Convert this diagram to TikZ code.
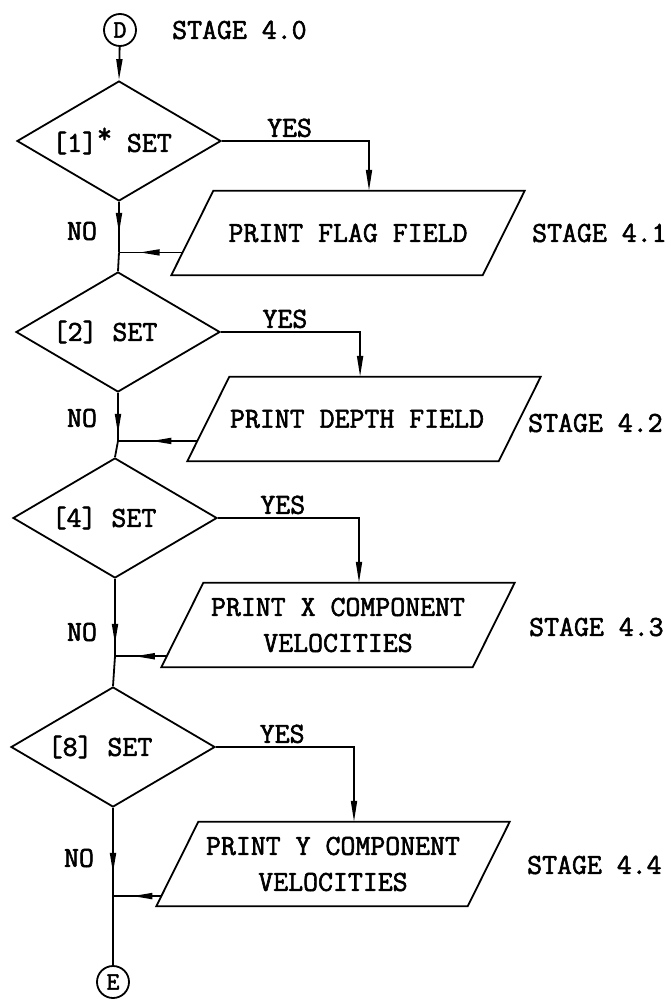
\documentclass[tikz,border=0pt]{standalone}
\usepackage{fontspec}
\newfontfamily\twfont{Latin Modern Mono}[FakeBold=2]
\usetikzlibrary{shapes.geometric,arrows.meta,decorations.markings,calc}
\begin{document}
\begin{tikzpicture}[x=1pt,y=-1pt,
  ln/.style={line width=1.8pt},
  >={Triangle[length=21pt,width=6pt]},
  txt/.style={font=\fontsize{29}{36}\selectfont\twfont, inner sep=0pt},
  dec/.style={draw, diamond, aspect=2, minimum width=204pt, minimum height=120pt,
    inner sep=0pt, line width=1.8pt, txt},
  io/.style={rectangle, minimum width=311pt, minimum height=84pt,
    inner sep=0pt, align=center, txt},
  conn/.style={draw, circle, minimum size=32pt, inner sep=0pt, line width=1.8pt,
    font=\fontsize{25}{28}\selectfont\twfont},
  lbl/.style={txt, anchor=west},
  midarrow/.style={postaction={decorate}, decoration={markings,
    mark=at position #1 with {\arrow{Triangle[length=20pt,width=6pt]}}}}
]
\useasboundingbox (0,0) rectangle (671,999);

% nodes
\node[conn] (D) at (120,30) {D};
\node[lbl] (s0) at (172,30) {STAGE 4.0};

\node[dec] (d1) at (119,141) {[1]\raisebox{9pt}{*} SET\hspace*{14pt}};
\node[io] (p1) at (348,233) {PRINT FLAG FIELD};
\node[lbl] (s1) at (532,233) {STAGE 4.1};

\node[dec] (d2) at (118,332) {[2] SET\hspace*{26pt}};
\node[io] (p2) at (364,419) {PRINT DEPTH FIELD\hspace*{14pt}};
\node[lbl] (s2) at (528,423) {STAGE 4.2};

\node[dec] (d3) at (115,518) {[4] SET\hspace*{22pt}};
\node[io] (p3) at (338,625) {PRINT X COMPONENT\\VELOCITIES};
\node[lbl] (s3) at (529,627) {STAGE 4.3};

\node[dec] (d4) at (113,747) {[8] SET\hspace*{26pt}};
\node[io] (p4) at (333,864) {PRINT Y COMPONENT\\VELOCITIES};
\node[lbl] (s4) at (527,865) {STAGE 4.4};

\node[conn] (E) at (113,982) {E};

\node[txt] (n1) at (82,231) {NO};
\node[txt] (n2) at (82,418) {NO};
\node[txt] (n3) at (82,632) {NO};
\node[txt] (n4) at (79,858) {NO};

% parallelogram outlines of the output boxes
\foreach \p in {p1,p2,p3,p4}{
  \coordinate (\p tl) at ([xshift=21pt]\p.north west);
  \coordinate (\p tr) at ([xshift=21pt]\p.north east);
  \coordinate (\p br) at ([xshift=-21pt]\p.south east);
  \coordinate (\p bl) at ([xshift=-21pt]\p.south west);
  \draw[ln, line join=miter] (\p tl) -- (\p tr) -- (\p br) -- (\p bl) -- cycle;
}

% return points on parallelogram left sides and junctions on main line
\coordinate (r1) at ($(p1bl)!0.27!(p1tl)$);
\coordinate (r2) at ($(p2bl)!0.24!(p2tl)$);
\coordinate (r3) at ($(p3bl)!0.13!(p3tl)$);
\coordinate (r4) at ($(p4bl)!0.12!(p4tl)$);
\coordinate (j1) at (d1.south |- r1);
\coordinate (j2) at (d2.south |- r2);
\coordinate (j3) at (d3.south |- r3);
\coordinate (j4) at (d4.south |- r4);
\coordinate (t1) at ($(p1tl)!0.5!(p1tr)$);
\coordinate (t2) at ($(p2tl)!0.42!(p2tr)$);
\coordinate (t3) at ($(p3tl)!0.5!(p3tr)$);
\coordinate (t4) at ($(p4tl)!0.5!(p4tr)$);

% connectors
\draw[ln,->] (D) -- (d1.north);

\draw[ln,->] (d1.east) -| node[txt, above=3pt, pos=0.23] (y1) {YES} (t1);
\draw[ln,->] (d2.east) -| node[txt, above=3pt, pos=0.23] (y2) {YES} (t2);
\draw[ln,->] (d3.east) -| node[txt, above=3pt, pos=0.23] (y3) {YES} (t3);
\draw[ln,->] (d4.east) -| node[txt, above=3pt, pos=0.24] (y4) {YES} (t4);

\draw[ln,midarrow=31pt] (d1.south) -- (j1);
\draw[ln] (j1) -- (d2.north);
\draw[ln,midarrow=41pt] (d2.south) -- (j2);
\draw[ln] (j2) -- (d3.north);
\draw[ln,midarrow=65pt] (d3.south) -- (j3);
\draw[ln] (j3) -- (d4.north);
\draw[ln,midarrow=65pt] (d4.south) -- (j4);
\draw[ln] (j4) -- (E);

\draw[ln,midarrow=43pt] (r1) -- (j1);
\draw[ln,midarrow=46pt] (r2) -- (j2);
\draw[ln,midarrow=32pt] (r3) -- (j3);
\draw[ln,midarrow=29pt] (r4) -- (j4);
\end{tikzpicture}
\end{document}
